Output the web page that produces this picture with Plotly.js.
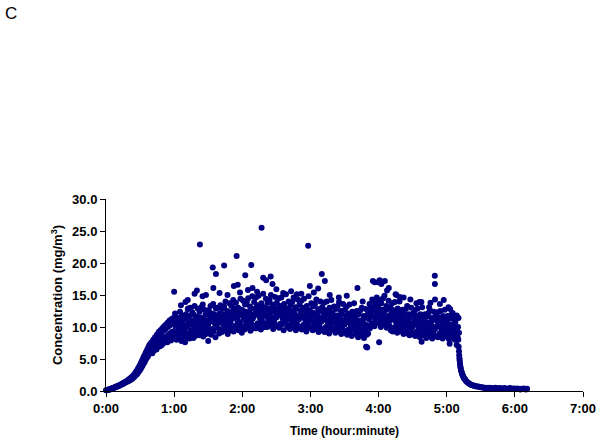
<!DOCTYPE html>
<html><head><meta charset="utf-8">
<script src="https://cdn.plot.ly/plotly-3.0.1.min.js"></script>
<style>html,body{margin:0;padding:0;background:#fff;}#chart{width:600px;height:439px;}</style>
</head><body><div id="chart"></div>
<script>
// time in minutes since start, concentration in mg/m3
const rampT1=[0,0.5,1,1.5,2,2.5,3,3.5,4,4.5,5,5.5,6,6.5,7,7.5,8,8.5,9,9.5,10,10.5,11,11.5,12,12.5,13,13.5,14,14.5,15,15.5,16,16.5,17,17.5,18,18.5,19,19.5,20];
const rampC1=[0.1,0.1,0.15,0.2,0.2,0.25,0.2,0.3,0.3,0.35,0.4,0.4,0.45,0.5,0.5,0.55,0.6,0.6,0.7,0.65,0.75,0.8,0.8,0.9,0.85,0.95,1.0,1.0,1.1,1.05,1.2,1.25,1.2,1.35,1.4,1.35,1.5,1.55,1.5,1.7,1.75];
const rampT2=[20.4,20.8,21.2,21.6,22,22.4,22.8,23.2,23.6,24,24.4,24.8,25.2,25.6,26,26.4,26.8,27.2,27.6,28,28.4,28.8,29.2,29.6,30,30.4,30.8,31.2,31.6,32,32.4,32.8,33.2,33.6,34,34.4,34.8,35.2,35.6,36,36.4,36.8,37.2,37.6,38,38.4,38.8,39.2,39.6];
const rampC2=[1.6,1.9,1.7,2.0,1.8,2.1,2.2,1.9,2.3,2.1,2.5,2.2,2.6,2.4,2.9,2.5,3.1,2.6,3.3,2.8,3.6,3.0,3.8,3.2,4.1,3.4,4.4,3.7,4.7,3.9,5.0,4.2,5.3,4.4,5.6,4.7,5.9,5.0,6.2,5.2,6.5,5.4,6.8,5.7,7.1,5.9,7.3,6.2,7.5];
const rampT3=[40,40.4,40.8,41.2,41.6,42,42.4,42.8,43.2,43.6,44,44.4,44.8,45.2,45.6,46,46.4,46.8,47.2,47.6,48,48.4,48.8,49.2,49.6,50,50.4,50.8,51.2,51.6,52,52.4,52.8,53.2,53.6,54,54.4,54.8,55.2,55.6,56,56.4,56.8,57.2,57.6,58,58.4,58.8,59.2,59.6];
const rampC3=[6.5,7.6,5.9,7.2,8.0,6.3,7.8,6.9,8.4,7.0,8.0,6.5,8.8,7.3,8.3,6.9,9.2,7.6,8.7,7.0,9.5,7.8,9.0,7.2,9.8,8.0,9.4,7.5,10.1,8.3,9.6,7.7,10.4,8.5,9.9,7.6,10.7,8.8,10.1,8.0,11.0,9.0,10.3,7.9,11.2,9.2,10.6,8.4,11.4,9.3];

const plateauT=[
60,60.4,60.8,61.2,61.6,62,62.4,62.8,63.2,63.6,64,64.4,64.8,65.2,65.6,66,66.4,66.8,67.2,67.6,68,68.4,68.8,69.2,69.6,
70,70.4,70.8,71.2,71.6,72,72.4,72.8,73.2,73.6,74,74.4,74.8,75.2,75.6,76,76.4,76.8,77.2,77.6,78,78.4,78.8,79.2,79.6,
80,80.4,80.8,81.2,81.6,82,82.4,82.8,83.2,83.6,84,84.4,84.8,85.2,85.6,86,86.4,86.8,87.2,87.6,88,88.4,88.8,89.2,89.6,
90,90.4,90.8,91.2,91.6,92,92.4,92.8,93.2,93.6,94,94.4,94.8,95.2,95.6,96,96.4,96.8,97.2,97.6,98,98.4,98.8,99.2,99.6,
100,100.4,100.8,101.2,101.6,102,102.4,102.8,103.2,103.6,104,104.4,104.8,105.2,105.6,106,106.4,106.8,107.2,107.6,108,108.4,108.8,109.2,109.6,
110,110.4,110.8,111.2,111.6,112,112.4,112.8,113.2,113.6,114,114.4,114.8,115.2,115.6,116,116.4,116.8,117.2,117.6,118,118.4,118.8,119.2,119.6,
120,120.4,120.8,121.2,121.6,122,122.4,122.8,123.2,123.6,124,124.4,124.8,125.2,125.6,126,126.4,126.8,127.2,127.6,128,128.4,128.8,129.2,129.6,
130,130.4,130.8,131.2,131.6,132,132.4,132.8,133.2,133.6,134,134.4,134.8,135.2,135.6,136,136.4,136.8,137.2,137.6,138,138.4,138.8,139.2,139.6,
140,140.4,140.8,141.2,141.6,142,142.4,142.8,143.2,143.6,144,144.4,144.8,145.2,145.6,146,146.4,146.8,147.2,147.6,148,148.4,148.8,149.2,149.6,
150,150.4,150.8,151.2,151.6,152,152.4,152.8,153.2,153.6,154,154.4,154.8,155.2,155.6,156,156.4,156.8,157.2,157.6,158,158.4,158.8,159.2,159.6,
160,160.4,160.8,161.2,161.6,162,162.4,162.8,163.2,163.6,164,164.4,164.8,165.2,165.6,166,166.4,166.8,167.2,167.6,168,168.4,168.8,169.2,169.6,
170,170.4,170.8,171.2,171.6,172,172.4,172.8,173.2,173.6,174,174.4,174.8,175.2,175.6,176,176.4,176.8,177.2,177.6,178,178.4,178.8,179.2,179.6,
180,180.4,180.8,181.2,181.6,182,182.4,182.8,183.2,183.6,184,184.4,184.8,185.2,185.6,186,186.4,186.8,187.2,187.6,188,188.4,188.8,189.2,189.6,
190,190.4,190.8,191.2,191.6,192,192.4,192.8,193.2,193.6,194,194.4,194.8,195.2,195.6,196,196.4,196.8,197.2,197.6,198,198.4,198.8,199.2,199.6,
200,200.4,200.8,201.2,201.6,202,202.4,202.8,203.2,203.6,204,204.4,204.8,205.2,205.6,206,206.4,206.8,207.2,207.6,208,208.4,208.8,209.2,209.6,
210,210.4,210.8,211.2,211.6,212,212.4,212.8,213.2,213.6,214,214.4,214.8,215.2,215.6,216,216.4,216.8,217.2,217.6,218,218.4,218.8,219.2,219.6,
220,220.4,220.8,221.2,221.6,222,222.4,222.8,223.2,223.6,224,224.4,224.8,225.2,225.6,226,226.4,226.8,227.2,227.6,228,228.4,228.8,229.2,229.6,
230,230.4,230.8,231.2,231.6,232,232.4,232.8,233.2,233.6,234,234.4,234.8,235.2,235.6,236,236.4,236.8,237.2,237.6,238,238.4,238.8,239.2,239.6,
240,240.4,240.8,241.2,241.6,242,242.4,242.8,243.2,243.6,244,244.4,244.8,245.2,245.6,246,246.4,246.8,247.2,247.6,248,248.4,248.8,249.2,249.6,
250,250.4,250.8,251.2,251.6,252,252.4,252.8,253.2,253.6,254,254.4,254.8,255.2,255.6,256,256.4,256.8,257.2,257.6,258,258.4,258.8,259.2,259.6,
260,260.4,260.8,261.2,261.6,262,262.4,262.8,263.2,263.6,264,264.4,264.8,265.2,265.6,266,266.4,266.8,267.2,267.6,268,268.4,268.8,269.2,269.6,
270,270.4,270.8,271.2,271.6,272,272.4,272.8,273.2,273.6,274,274.4,274.8,275.2,275.6,276,276.4,276.8,277.2,277.6,278,278.4,278.8,279.2,279.6,
280,280.4,280.8,281.2,281.6,282,282.4,282.8,283.2,283.6,284,284.4,284.8,285.2,285.6,286,286.4,286.8,287.2,287.6,288,288.4,288.8,289.2,289.6,
290,290.4,290.8,291.2,291.6,292,292.4,292.8,293.2,293.6,294,294.4,294.8,295.2,295.6,296,296.4,296.8,297.2,297.6,298,298.4,298.8,299.2,299.6,
300,300.4,300.8,301.2,301.6,302,302.4,302.8,303.2,303.6,304,304.4,304.8,305.2,305.6,306,306.4,306.8,307.2,307.6,308,308.4,308.8,309.2,309.6,310,310.4,310.8];
const plateauC=[
10.8,8.7,12.1,9.6,10.2,8.0,11.5,9.1,10.6,8.3,11.1,10.0,9.4,12.4,8.9,10.4,7.8,11.8,9.8,10.9,8.5,10.3,11.3,9.3,7.6,
9.9,12.0,8.4,11.4,10.1,12.8,9.0,10.7,11.7,8.2,10.4,13.0,9.5,11.0,8.8,12.3,10.6,9.2,11.9,10.0,13.3,8.6,10.9,11.6,9.7,
11.6,9.0,12.9,10.3,11.2,8.7,12.4,10.0,11.5,9.2,13.1,10.8,9.9,13.5,8.5,11.3,10.5,12.7,9.4,11.9,8.9,11.0,12.2,10.2,9.6,
10.4,12.6,9.2,11.8,11.0,13.3,8.8,11.4,12.1,9.7,10.9,13.6,9.3,12.0,10.6,11.5,8.4,12.9,10.1,11.2,9.9,13.0,10.7,11.7,9.0,
12.1,9.6,13.4,10.9,11.6,9.2,12.8,10.5,11.9,9.8,13.2,11.3,10.2,14.0,9.4,11.8,10.7,12.5,8.9,12.2,10.0,11.5,13.7,10.6,9.5,
11.0,13.3,9.7,12.4,11.7,14.2,9.3,12.0,12.9,10.2,11.4,13.8,9.9,12.6,11.1,10.5,13.0,9.5,12.2,11.8,10.8,14.4,10.0,12.7,9.1,
12.6,10.1,14.1,11.5,12.0,9.6,13.5,11.0,12.4,10.3,13.9,11.8,10.7,14.5,9.9,12.3,11.2,13.2,9.4,12.8,10.5,11.9,14.8,11.3,9.8,
11.6,13.9,10.2,12.9,12.1,14.6,9.8,12.5,13.4,10.6,11.9,14.9,10.3,13.1,11.4,12.7,9.6,13.7,11.0,12.3,10.8,15.2,11.7,13.0,10.0,
13.1,10.5,14.4,11.8,12.6,10.0,13.8,11.3,12.9,10.7,14.2,12.2,11.0,15.0,10.2,12.7,11.5,13.5,9.7,13.2,10.9,12.4,14.7,11.6,10.3,
11.5,13.8,10.1,12.8,12.0,14.5,9.9,12.4,13.3,10.5,11.8,14.6,10.4,13.0,11.3,12.6,9.5,13.6,11.1,12.2,10.7,15.1,11.6,12.9,10.0,
12.7,10.2,14.0,11.4,12.3,9.7,13.4,11.0,12.5,10.4,13.9,11.9,10.8,14.6,9.9,12.1,11.3,13.1,9.5,12.9,10.6,11.7,14.3,11.2,10.0,
11.2,13.5,9.8,12.5,11.7,14.1,9.6,12.1,13.0,10.3,11.5,14.4,10.0,12.7,11.0,12.3,9.3,13.3,10.8,11.9,10.4,14.8,11.4,12.6,9.9,
12.3,9.9,13.7,11.1,12.0,9.5,13.2,10.7,12.2,10.1,13.6,11.6,10.5,14.3,9.6,11.8,11.0,12.8,9.2,12.5,10.3,11.4,14.0,10.9,9.7,
10.9,13.1,9.5,12.2,11.3,13.8,9.2,11.8,12.6,10.0,11.1,14.0,9.7,12.4,10.6,12.0,9.0,13.0,10.4,11.6,10.1,14.2,11.0,12.3,9.6,
11.9,9.6,13.2,10.8,11.6,9.1,12.8,10.4,11.8,9.8,13.3,11.2,10.2,13.9,9.3,11.5,10.7,12.5,8.9,12.1,10.0,11.0,13.6,10.6,9.4,
10.4,12.7,9.1,11.7,10.9,13.2,8.8,11.3,12.1,9.6,10.7,13.5,9.3,11.9,10.2,11.5,8.6,12.4,10.0,11.1,9.7,13.7,10.5,11.8,9.2,
11.2,8.9,12.5,10.1,10.8,8.4,12.0,9.7,11.0,9.1,12.6,10.5,9.5,13.0,8.7,10.9,9.9,11.7,8.3,11.4,9.3,10.4,12.8,9.9,8.8,
10.2,12.0,9.0,11.9,11.2,13.6,9.8,12.4,13.1,10.5,11.8,14.3,10.6,13.0,11.6,12.7,10.1,13.8,11.3,12.5,11.0,14.6,12.0,13.4,10.8,
12.9,10.6,14.2,11.6,12.4,10.0,13.7,11.2,12.7,10.5,14.5,12.1,11.0,14.9,10.3,12.6,11.4,13.3,9.9,12.8,10.8,11.7,14.1,11.3,10.2,
11.0,13.1,9.5,12.2,11.4,13.7,9.3,11.8,12.6,9.9,11.1,13.9,9.7,12.3,10.6,11.9,9.1,12.9,10.4,11.5,10.1,14.0,10.9,12.1,9.6,
11.5,9.3,12.7,10.4,11.1,8.9,12.2,10.0,11.4,9.5,12.8,10.8,9.8,13.3,9.0,11.2,10.3,12.0,8.7,11.7,9.6,10.6,13.0,10.2,9.1,
10.0,12.1,8.8,11.3,10.5,12.6,8.6,11.0,11.8,9.3,10.3,12.9,9.0,11.5,9.8,11.1,8.4,12.0,9.6,10.7,9.4,13.1,10.1,11.4,8.9,
10.9,8.7,12.0,9.8,10.5,8.3,11.6,9.4,10.7,8.9,12.2,10.2,9.2,12.6,8.5,10.6,9.7,11.4,8.2,11.1,9.1,10.0,12.4,9.6,8.6,
9.8,11.8,8.5,11.0,10.2,12.3,8.4,10.7,11.5,9.0,10.0,12.5,8.8,11.2,9.5,10.9,8.2,11.7,9.3,10.4,9.1,12.7,9.9,11.1,8.7,
10.6,8.5,11.7,9.5,10.2,8.1,11.3,9.2,10.4,8.7,11.9,9.9,9.0,12.2,8.3,10.3,9.4,11.1,8.0,10.8,8.9,9.7,11.8,9.3,8.4,10.0,11.4,9.1];

const outT=[60,66,70,72,72.3,77,78,80,82.7,85,88,90,94,94.5,96.8,100,104,107,112.6,115,116,118,122.6,125,127.9,129,133,137,138.4,141,145,146.6,150,156,163,168,172,178,179.5,183,186.8,190,192.7,197,205,212,221.4,226,229,230,235,236.6,239.6,240.5,241,242.5,245.5,247.5,249,255,255.7,258.6,262,268,273.3,276,277.7,277.9,284.5,285.7,289.5,289.6,289.7,294,297.4,301.5,302.6,303,306,307,308.5,308.8];
const outC=[15.5,13.4,13.9,14.2,12.9,8.3,15.2,15.7,22.9,14.8,15.0,7.8,19.3,16.1,18.3,15.3,19.6,15.0,16.4,21.1,16.6,15.4,18.1,15.8,19.7,16.1,15.5,25.5,17.7,17.3,17.9,16.7,15.9,15.3,15.6,15.1,15.2,22.7,16.4,15.4,16.0,18.3,17.2,15.0,14.6,14.9,16.1,14.0,6.9,6.8,17.2,17.0,17.0,7.6,17.3,16.7,17.2,15.7,16.1,15.1,15.0,14.7,14.6,14.3,13.7,13.9,13.9,7.7,13.1,13.8,18.0,16.7,14.3,13.6,14.2,13.1,7.4,12.8,11.7,11.6,11.6,7.2];

const dropT=[310.2,310.5,310.8,311.0,311.2,311.4,311.6,311.8,312.0,312.3,312.6,312.9,313.2,313.5,313.9,314.3,314.7,315.2,315.7,316.2,316.8,317.4,318.0,318.7,319.4,320.2,321.0,321.8,322.7,323.6,324.5,325.5,326.5,327.5,328.6,329.7,330.8];
const dropC=[8.0,6.9,6.2,5.6,5.1,4.8,4.4,4.1,3.8,3.6,3.3,3.1,2.9,2.7,2.5,2.4,2.2,2.0,1.9,1.8,1.6,1.5,1.4,1.3,1.2,1.1,1.0,0.95,0.9,0.85,0.8,0.75,0.7,0.7,0.65,0.6,0.6];

const tailT=[331.8,332.8,333.8,334.8,335.8,336.8,337.8,338.8,339.8,340.8,341.8,342.8,343.8,344.8,345.8,346.8,347.8,348.8,349.8,350.8,351.8,352.8,353.8,354.8,355.8,356.8,357.8,358.8,359.8,360.8,361.8,362.8,363.8,364.8,365.8,366.8,367.8,368.8,369.8,370.8];
const tailC=[0.55,0.5,0.45,0.5,0.4,0.45,0.5,0.4,0.35,0.45,0.4,0.5,0.45,0.35,0.4,0.45,0.3,0.4,0.35,0.45,0.4,0.3,0.35,0.4,0.45,0.35,0.3,0.4,0.35,0.3,0.4,0.35,0.3,0.25,0.35,0.3,0.4,0.3,0.25,0.35];

const xTickVals=[0,60,120,180,240,300,360,420];
const xTickText=["0:00","1:00","2:00","3:00","4:00","5:00","6:00","7:00"];
const panelLabel="C";
const xTitle="Time (hour:minute)";
const yTitle="Concentration (mg/m<sup>3</sup>)";

const FONT="Liberation Sans, Arial, sans-serif";
const xs=[].concat(rampT1,rampT2,rampT3,plateauT,outT,dropT,tailT);
const ys=[].concat(rampC1,rampC2,rampC3,plateauC,outC,dropC,tailC);

const trace={x:xs,y:ys,type:'scatter',mode:'markers',cliponaxis:false,
  marker:{color:'#000080',size:6,line:{width:0}},hoverinfo:'skip'};

const axFont={family:FONT,size:13,color:'#000',weight:'bold'};
const layout={
  width:600,height:439,
  margin:{l:106,r:17,t:199,b:48},
  paper_bgcolor:'#fff',plot_bgcolor:'#fff',
  showlegend:false,
  xaxis:{range:[0,420],tickvals:xTickVals,ticktext:xTickText,ticks:'outside',ticklen:5,tickwidth:1,tickcolor:'#000',
    showline:true,linecolor:'#000',linewidth:1,showgrid:false,zeroline:false,tickfont:axFont,fixedrange:true,
    title:{text:xTitle,font:{family:FONT,size:12,color:'#000',weight:'bold'},standoff:12}},
  yaxis:{range:[0,30],tick0:0,dtick:5,tickformat:'.1f',ticks:'outside',ticklen:5,tickwidth:1,tickcolor:'#000',
    showline:true,linecolor:'#000',linewidth:1,showgrid:false,zeroline:false,tickfont:axFont,fixedrange:true,
    title:{text:yTitle,font:{family:FONT,size:13,color:'#000',weight:'bold'},standoff:6}},
  annotations:[{text:panelLabel,xref:'paper',yref:'paper',x:-0.216,y:1.964,xanchor:'left',yanchor:'middle',showarrow:false,
    font:{family:FONT,size:17,color:'#000'}}]
};
Plotly.newPlot('chart',[trace],layout,{displayModeBar:false,staticPlot:true});
</script></body></html>
